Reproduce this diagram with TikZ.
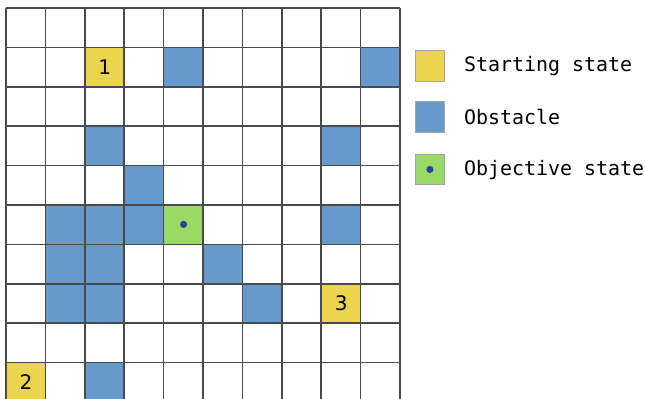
\documentclass[tikz,border=0pt]{standalone}
\usepackage{fontspec}
\setmainfont{DejaVu Sans}
\setmonofont{DejaVu Sans Mono}
\usepackage{xcolor}
\usepackage{tikz}

\definecolor{startyellow}{HTML}{ECD54E}
\definecolor{obstblue}{HTML}{6699CC}
\definecolor{goalgreen}{HTML}{9BD966}
\definecolor{dotblue}{HTML}{2B3F9E}
\definecolor{gridgray}{HTML}{4A4A4A}

\begin{document}
\begin{tikzpicture}[
  cell/.style={rectangle, minimum size=1cm, inner sep=0pt, anchor=south west, font=\fontsize{14.5}{17}\selectfont},
  start/.style={cell, fill=startyellow},
  obstacle/.style={cell, fill=obstblue},
  goal/.style={cell, fill=goalgreen},
  gridline/.style={draw=gridgray, line width=1.1pt},
  swatch/.style={rectangle, draw=gray!70, line width=0.6pt, minimum width=0.76cm, minimum height=0.78cm, inner sep=0pt},
  legendtext/.style={font=\ttfamily\fontsize{14.4}{17}\selectfont, anchor=west, inner sep=0pt},
  target/.style={circle, fill=dotblue, inner sep=0pt, minimum size=0.18cm}
]
\useasboundingbox (-0.152,0.076) rectangle (16.22,10.203);

% Starting states
\node[start] (s1) at (2,8) {1};
\node[start] (s2) at (0,0) {2};
\node[start] (s3) at (8,2) {3};

% Obstacles (column, row from bottom)
\foreach \c/\r in {4/8, 9/8, 2/6, 8/6, 3/5, 1/4, 2/4, 3/4, 8/4, 1/3, 2/3, 5/3, 1/2, 2/2, 6/2, 2/0}
  \node[obstacle] (ob-\c-\r) at (\c,\r) {};

% Objective state
\node[goal] (goal) at (4,4) {};
\node[target] (goaldot) at (goal.center) {};

% Grid
\draw[gridline] (0,0) grid (10,10);

% Legend
\node[swatch, fill=startyellow] (keystart) at (10.76,8.53) {};
\node[legendtext] (txtstart) at (11.62,8.53) {Starting state};

\node[swatch, fill=obstblue] (keyobst) at (10.76,7.23) {};
\node[legendtext] (txtobst) at (11.62,7.23) {Obstacle};

\node[swatch, fill=goalgreen] (keygoal) at (10.76,5.90) {};
\node[target] (keydot) at (keygoal.center) {};
\node[legendtext] (txtgoal) at (11.62,5.90) {Objective state};

\end{tikzpicture}
\end{document}
